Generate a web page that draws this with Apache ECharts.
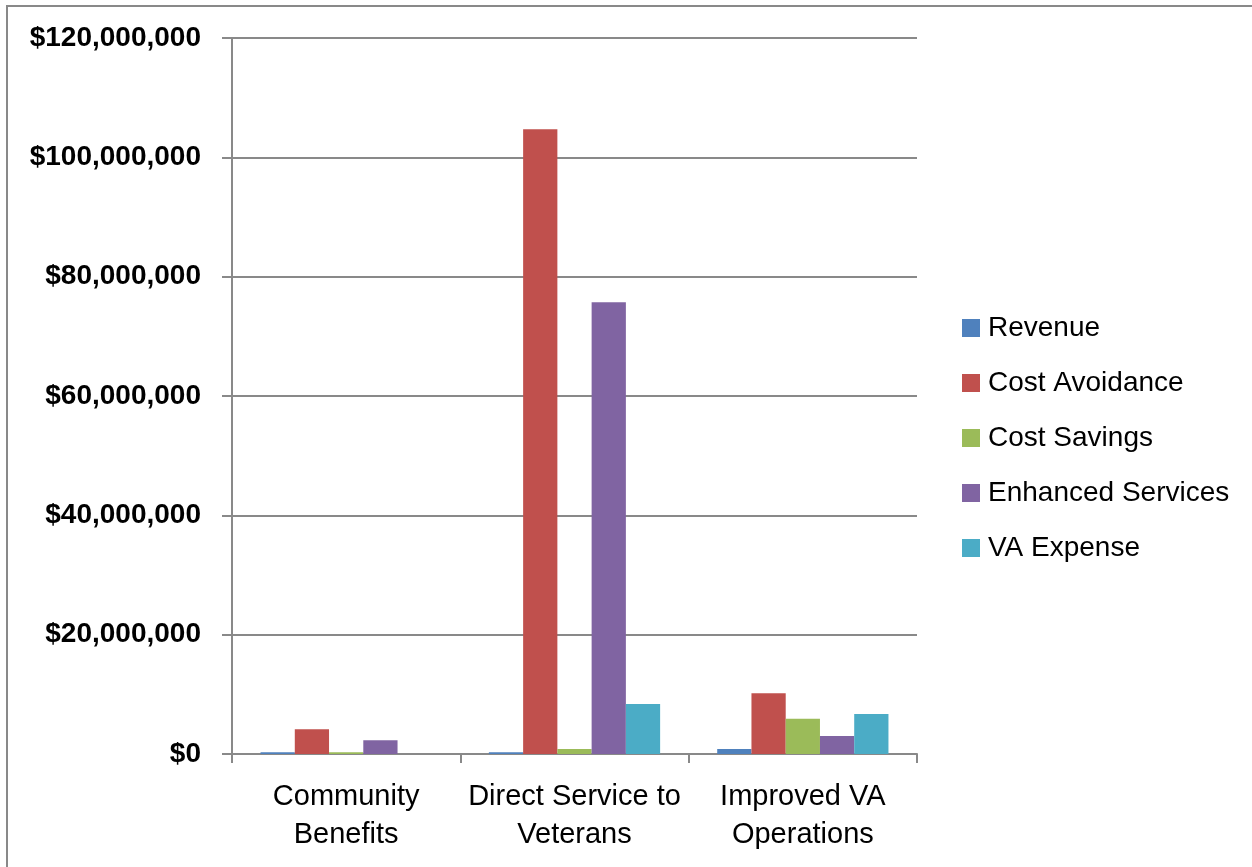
<!DOCTYPE html>
<html>
<head>
<meta charset="utf-8">
<script src="https://cdn.jsdelivr.net/npm/echarts@6/dist/echarts.min.js"></script>
<style>
  html, body { margin: 0; padding: 0; background: #fff; }
  #frame { position: absolute; left: 6px; top: 5px; width: 1260px; height: 880px;
           border: 2px solid #898989; box-sizing: border-box; }
  #chart { position: absolute; left: 0; top: 0; width: 1252px; height: 867px; }
</style>
</head>
<body>
<div id="frame"></div>
<div id="chart"></div>
<script>
// Program areas along the x axis
const categories = ['Community\nBenefits', 'Direct Service to\nVeterans', 'Improved VA\nOperations'];

// Dollar amounts per benefit type, one value per program area
const revenue           = [280000,   280000,    850000];
const costAvoidance     = [4150000,  104700000, 10200000];
const costSavings       = [280000,   850000,    5900000];
const enhancedServices  = [2300000,  75700000,  3000000];
const vaExpense         = [0,        8400000,   6700000];

const seriesNames  = ['Revenue', 'Cost Avoidance', 'Cost Savings', 'Enhanced Services', 'VA Expense'];
const seriesValues = [revenue, costAvoidance, costSavings, enhancedServices, vaExpense];
const seriesColors = ['#4F81BD', '#C0504D', '#9BBB59', '#8064A2', '#4BACC6'];

const fontFamily = '"Liberation Sans", Arial, sans-serif';
const axisGray = '#898989';

function dollars(v) {
  return '$' + Math.round(v).toString().replace(/\B(?=(\d{3})+(?!\d))/g, ',');
}

const chart = echarts.init(document.getElementById('chart'));
chart.setOption({
  animation: false,
  backgroundColor: 'transparent',
  grid: { left: 232, right: 335, top: 38, bottom: 113, containLabel: false },
  legend: {
    orient: 'vertical',
    left: 962,
    top: 314,
    padding: 0,
    itemWidth: 18,
    itemHeight: 18,
    itemGap: 27,
    icon: 'rect',
    textStyle: { fontFamily, fontSize: 28, color: '#000', lineHeight: 28, padding: [0, 0, 0, 3] },
    data: seriesNames
  },
  xAxis: {
    type: 'category',
    data: categories,
    axisLine: { lineStyle: { color: axisGray, width: 2 } },
    axisTick: { show: true, alignWithLabel: false, length: 9, lineStyle: { color: axisGray, width: 2 } },
    axisLabel: { fontFamily, fontSize: 29, color: '#000', lineHeight: 38, margin: 24, interval: 0 },
    splitLine: { show: false }
  },
  yAxis: {
    type: 'value',
    min: 0,
    max: 120000000,
    interval: 20000000,
    axisLine: { show: true, lineStyle: { color: axisGray, width: 2 } },
    axisTick: { show: true, length: 10, lineStyle: { color: axisGray, width: 2 } },
    axisLabel: { fontFamily, fontSize: 28, fontWeight: 'bold', color: '#000', margin: 31,
                 padding: [6, 0, 0, 0], formatter: dollars },
    splitLine: { show: true, lineStyle: { color: axisGray, width: 2 } }
  },
  series: seriesNames.map((name, i) => ({
    name,
    type: 'bar',
    data: seriesValues[i],
    barGap: '0%',
    barCategoryGap: '25%',
    itemStyle: { color: seriesColors[i] }
  }))
});
</script>
</body>
</html>
